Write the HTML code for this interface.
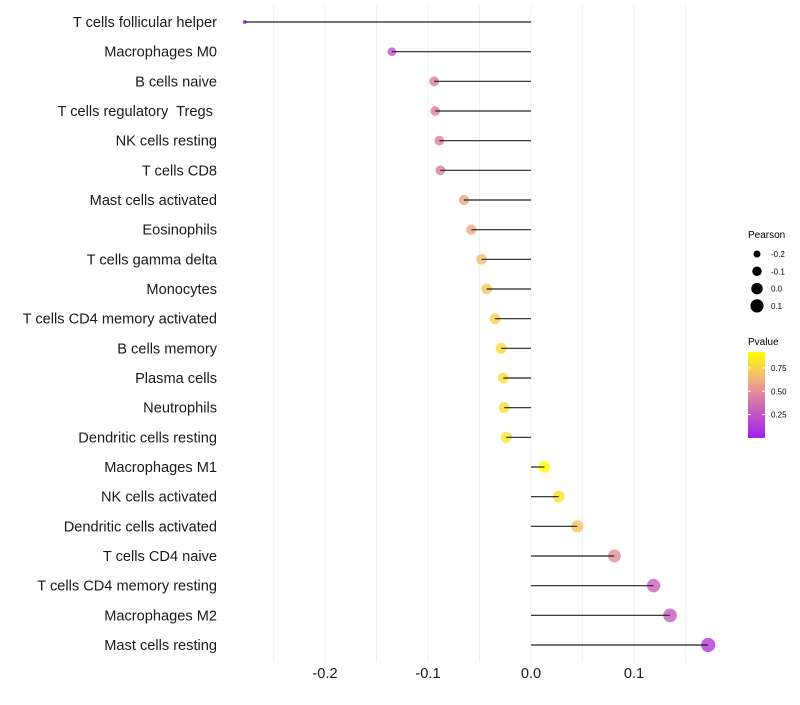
<!DOCTYPE html>
<html><head><meta charset="utf-8"><style>
body{margin:0;background:#fff;font-family:"Liberation Sans",sans-serif}
</style></head><body>
<svg id="c" width="800" height="700" xmlns="http://www.w3.org/2000/svg"></svg>
<script>
const categories=["T cells follicular helper","Macrophages M0","B cells naive","T cells regulatory  Tregs ","NK cells resting","T cells CD8","Mast cells activated","Eosinophils","T cells gamma delta","Monocytes","T cells CD4 memory activated","B cells memory","Plasma cells","Neutrophils","Dendritic cells resting","Macrophages M1","NK cells activated","Dendritic cells activated","T cells CD4 naive","T cells CD4 memory resting","Macrophages M2","Mast cells resting"];
const pearson=[-0.278,-0.135,-0.094,-0.093,-0.089,-0.088,-0.065,-0.058,-0.048,-0.043,-0.035,-0.029,-0.027,-0.026,-0.024,0.013,0.027,0.045,0.081,0.119,0.135,0.172];
const pvalue=[0.02,0.22,0.42,0.42,0.43,0.43,0.57,0.6,0.66,0.7,0.75,0.78,0.8,0.8,0.82,0.92,0.82,0.7,0.5,0.3,0.27,0.12];
const xTicks=[-0.2,-0.1,0.0,0.1];
const xTickLabels=["-0.2","-0.1","0.0","0.1"];
const legendSizes=[-0.2,-0.1,0.0,0.1];
const legendSizeLabels=["-0.2","-0.1","0.0","0.1"];
const colorTicks=[0.25,0.5,0.75];
const colorTickLabels=["0.25","0.50","0.75"];

const svg=document.getElementById('c');const NS="http://www.w3.org/2000/svg";
function mk(t,a,p){const e=document.createElementNS(NS,t);for(const k in a)e.setAttribute(k,a[k]);(p||svg).appendChild(e);return e;}
const x=v=>531+v*1030;
const y=i=>22+i*(623/21);
const pmin=Math.min(...pearson),pmax=Math.max(...pearson);
const r=v=>{const t=Math.max(0,(v-pmin)/(pmax-pmin));return Math.sqrt(4+47*t);};
const stops=[[0,[160,32,240]],[0.45,[220,130,160]],[0.62,[240,176,128]],[0.92,[255,255,0]]];
function col(p){p=Math.max(0,Math.min(0.92,p));for(let i=1;i<stops.length;i++){if(p<=stops[i][0]){const a=stops[i-1],b=stops[i],t=(p-a[0])/(b[0]-a[0]);return 'rgb('+a[1].map((c,j)=>Math.round(c+(b[1][j]-c)*t)).join(',')+')';}}return 'rgb(255,255,0)';}
for(let v=-0.25;v<=0.151;v+=0.05){const g=mk('line',{x1:x(v),x2:x(v),y1:5,y2:662,stroke:'#f0f0f0','stroke-width':1});
}
categories.forEach((c,i)=>{
 const t=mk('text',{x:217,y:y(i)+5,'text-anchor':'end','font-size':14.6,fill:'#1a1a1a'});t.setAttribute('xml:space','preserve');t.style.whiteSpace='pre';t.textContent=c;
 
 const d=mk('circle',{cx:x(pearson[i]),cy:y(i),r:r(pearson[i]),fill:col(pvalue[i]),'fill-opacity':0.8});
 
 const l=mk('line',{x1:x(0),x2:x(pearson[i]),y1:y(i),y2:y(i),stroke:'#222','stroke-width':1.2});
 
});
xTicks.forEach((v,i)=>{const t=mk('text',{x:x(v),y:678,'text-anchor':'middle','font-size':14.6,fill:'#1a1a1a'});t.textContent=xTickLabels[i];
});
let t=mk('text',{x:748,y:238,'font-size':10,fill:'#000'});t.textContent='Pearson';

legendSizes.forEach((v,i)=>{const cy=254+i*17.3;const c=mk('circle',{cx:757,cy:cy,r:r(v),fill:'#000'});

const tt=mk('text',{x:771,y:cy+3,'font-size':8,fill:'#000'});tt.textContent=legendSizeLabels[i];
});
t=mk('text',{x:748,y:345,'font-size':10,fill:'#000'});t.textContent='Pvalue';

const defs=mk('defs',{});const lg=mk('linearGradient',{id:'g',x1:0,y1:1,x2:0,y2:0},defs);
[0,0.25,0.45,0.62,0.75,0.92].forEach(p=>mk('stop',{offset:p/0.92,'stop-color':col(p)},lg));
const cb=mk('rect',{x:748,y:352,width:17,height:86,fill:'url(#g)'});

const cy0=v=>438-(v/0.92)*86;
colorTicks.forEach((v,i)=>{mk('line',{x1:748,x2:751,y1:cy0(v),y2:cy0(v),stroke:'#fff'});mk('line',{x1:762,x2:765,y1:cy0(v),y2:cy0(v),stroke:'#fff'});
const tt=mk('text',{x:771,y:cy0(v)+3,'font-size':8,fill:'#000'});tt.textContent=colorTickLabels[i];
});
</script>
</body></html>
